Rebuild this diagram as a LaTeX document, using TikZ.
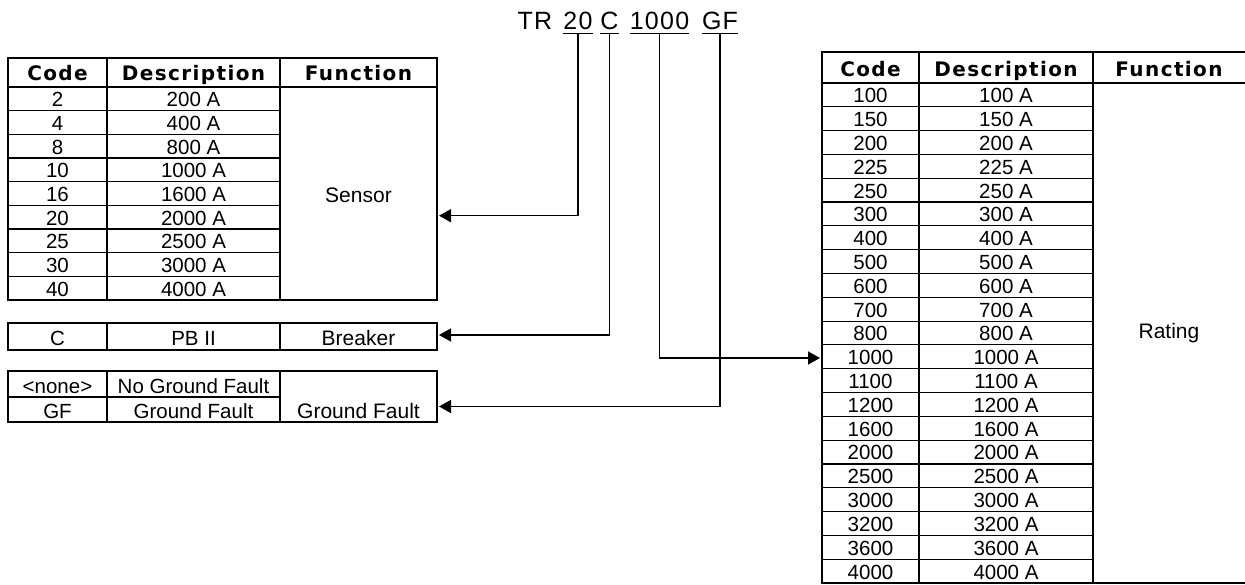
\documentclass[tikz,border=0pt]{standalone}
\usepackage{fontspec}
\setmainfont{Liberation Sans}
\newfontfamily\hdrfont[LetterSpace=7]{DejaVu Sans}
\newfontfamily\ttlfont[LetterSpace=5]{Liberation Sans}
\usetikzlibrary{arrows.meta}
\begin{document}
\begin{tikzpicture}[x=1pt,y=-1pt,
  outer/.style={line width=2.4pt},
  rule/.style={line width=1.1pt},
  hrule/.style={line width=1.7pt},
  conn/.style={line width=1.5pt,-{Triangle[length=12pt,width=13pt]}},
  body/.style={font=\fontsize{20.5}{24}\selectfont,inner sep=0pt,anchor=base},
  fn/.style={font=\fontsize{21}{24}\selectfont,inner sep=0pt},
  hdr/.style={font=\fontsize{20}{24}\hdrfont\bfseries,inner sep=0pt,anchor=base},
  ttl/.style={font=\fontsize{25}{28}\ttlfont,inner sep=0pt,anchor=base},
]
\useasboundingbox (0,0) rectangle (1245,585);

% ---------- title ----------
\node[ttl] (tTR)   at (535,30)   {TR};
\node[ttl] (t20)   at (578,30)   {20};
\node[ttl] (tC)    at (609.5,30) {C};
\node[ttl] (t1000) at (659.5,30) {1000};
\node[ttl] (tGF)   at (720,30)   {GF};
\foreach \n in {t20,tC,t1000,tGF}
  \draw[line width=1.5pt] ([yshift=-3.5pt]\n.base west) -- ([yshift=-3.5pt]\n.base east);

% ---------- left table (Sensor) ----------
\foreach \k in {1,...,8}
  \draw[rule] (8,{87+\k*23.67}) -- (280,{87+\k*23.67});
\draw[rule] (107,58) -- (107,300);
\draw[rule] (280,58) -- (280,300);
\draw[hrule] (8,87) -- (437,87);
\draw[outer] (8,58) rectangle (437,300);
\node[hdr] (lhc) at (57.5,81)  {Code};
\node[hdr] (lhd) at (193.5,81) {Description};
\node[hdr] (lhf) at (358.5,81) {Function};
\foreach \c/\d [count=\i] in {2/200 A,4/400 A,8/800 A,10/1000 A,16/1600 A,20/2000 A,25/2500 A,30/3000 A,40/4000 A}{
  \node[body] (lc\i) at (57.5,{87+\i*23.67-4}) {\c};
  \node[body] (ld\i) at (193.5,{87+\i*23.67-4}) {\d};
}
\node[fn] (sensor) at (358.5,195) {Sensor};

% ---------- Breaker box ----------
\draw[rule] (107,323) -- (107,350);
\draw[rule] (280,323) -- (280,350);
\draw[outer] (8,323) rectangle (437,350);
\node[body] (bc) at (57.5,345)  {C};
\node[body] (bd) at (193.5,345) {PB II};
\node[body,font=\fontsize{21}{24}\selectfont] (bf) at (358.5,345) {Breaker};

% ---------- Ground fault box ----------
\draw[rule] (8,397) -- (280,397);
\draw[rule] (107,371) -- (107,422);
\draw[rule] (280,371) -- (280,422);
\draw[outer] (8,371) rectangle (437,422);
\node[body] (g1c) at (57.5,393)  {<none>};
\node[body] (g1d) at (193.5,393) {No Ground Fault};
\node[body] (g2c) at (57.5,418)  {GF};
\node[body] (g2d) at (193.5,418) {Ground Fault};
\node[body,font=\fontsize{21}{24}\selectfont] (gf) at (358.5,418) {Ground Fault};

% ---------- right table (Rating) ----------
\foreach \k in {1,...,20}
  \draw[rule] (822,{83+\k*23.81}) -- (1093,{83+\k*23.81});
\draw[rule] (919,52) -- (919,583);
\draw[rule] (1093,52) -- (1093,583);
\draw[hrule] (822,83) -- (1245,83);
\draw[outer] (1245,52) -- (822,52) -- (822,583) -- (1245,583);
\node[hdr] (rhc) at (870.5,77) {Code};
\node[hdr] (rhd) at (1006,77)  {Description};
\node[hdr] (rhf) at (1169,77)  {Function};
\foreach \c [count=\i] in {100,150,200,225,250,300,400,500,600,700,800,1000,1100,1200,1600,2000,2500,3000,3200,3600,4000}{
  \node[body] (rc\i) at (870.5,{83+\i*23.81-4}) {\c};
  \node[body] (rd\i) at (1006,{83+\i*23.81-4}) {\c\ A};
}
\node[fn] (rating) at (1169,333) {Rating};

% ---------- connectors ----------
\coordinate (senin) at (439,215.7);
\coordinate (brkin) at (439,335);
\coordinate (ratin) at (820,358);
\coordinate (gfin)  at (439,406.5);
\draw[conn] ([yshift=-3.5pt]t20.base)   |- (senin);
\draw[conn] ([yshift=-3.5pt]tC.base)    |- (brkin);
\draw[conn] ([yshift=-3.5pt]t1000.base) |- (ratin);
\draw[conn] ([yshift=-3.5pt]tGF.base)   |- (gfin);
\end{tikzpicture}
\end{document}
